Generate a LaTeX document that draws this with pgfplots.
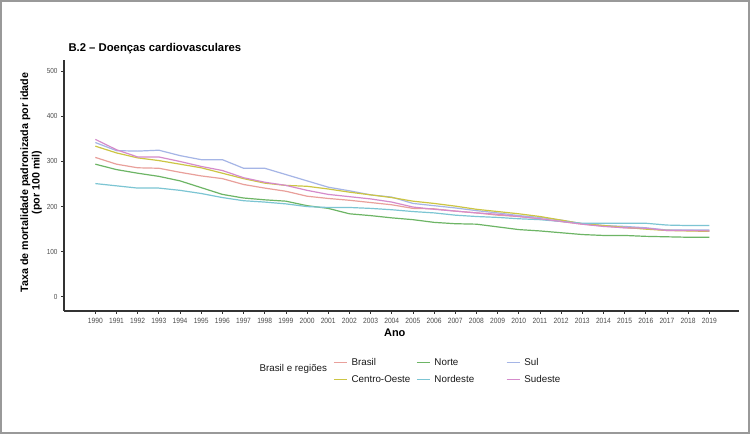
\documentclass[border=0pt]{standalone}
\usepackage{pgfplots}
\pgfplotsset{compat=1.18}
\usepackage{pgfplotstable}
\usepackage{fontspec}
\setmainfont{Liberation Sans}
\newfontfamily\narrowfont{Liberation Sans}[FakeStretch=0.88]
\definecolor{cBrasil}{HTML}{E9A09B}
\definecolor{cCO}{HTML}{CCC543}
\definecolor{cNorte}{HTML}{6DB565}
\definecolor{cNordeste}{HTML}{7CC5D3}
\definecolor{cSul}{HTML}{A5B5E6}
\definecolor{cSudeste}{HTML}{D58BCB}
\definecolor{axisgray}{HTML}{333333}
\definecolor{tickgray}{HTML}{4D4D4D}
\definecolor{framegray}{HTML}{999999}
\pgfplotstableread{
year Brasil CO Norte Nordeste Sul Sudeste
1990 309 334 294 251 342 349
1991 294 319 282 246 324 326
1992 286 308 274 241 323 310
1993 285 302 267 241 325 310
1994 276 294 257 236 313 300
1995 268 286 242 229 304 289
1996 262 274 227 220 304 280
1997 249 262 219 213 285 264
1998 241 252 215 210 285 254
1999 234 247 212 206 271 247
2000 223 245 202 200 257 236
2001 218 239 196 198 243 227
2002 214 232 184 198 235 222
2003 209 226 180 196 226 217
2004 204 220 175 193 221 210
2005 196 212 171 189 207 199
2006 195 207 165 186 202 194
2007 190 201 162 181 197 190
2008 186 194 161 178 191 186
2009 181 189 155 176 186 183
2010 178 184 149 173 180 178
2011 173 178 146 171 176 173
2012 167 170 142 167 170 167
2013 161 162 138 163 162 161
2014 157 158 136 163 158 156
2015 153 154 136 163 156 153
2016 151 150 134 163 153 152
2017 148 147 133 159 148 147
2018 147 146 132 158 148 147
2019 147 145 132 158 148 146
}\datatable
\begin{document}
\begin{tikzpicture}
\useasboundingbox (0pt,0pt) rectangle (750pt,434pt);
\fill[white] (0pt,0pt) rectangle (750pt,434pt);
\draw[framegray, line width=2pt] (1pt,1pt) rectangle (749pt,433pt);
\node[anchor=base west, font=\bfseries\fontsize{11.3}{13}\selectfont] at (65pt,382pt) {B.2 -- Doenças cardiovasculares};
\node[anchor=west, font=\fontsize{9.8}{11}\selectfont, text=black!90] at (256pt,65pt) {Brasil e regiões};
\begin{axis}[
  at={(64pt,123pt)}, anchor=south west, scale only axis,
  width=675pt, height=251pt,
  xmin=1988.52, xmax=2020.4, ymin=-31.5, ymax=525,
  axis x line=bottom, axis y line=left,
  axis line style={-, draw=axisgray, line width=1.2pt},
  xtick={1990,...,2019}, ytick={0,100,...,500},
  tick align=outside, major tick length=3pt,
  tick style={draw=axisgray, line width=0.7pt},
  /pgf/number format/1000 sep={},
  /pgf/number format/assume math mode=true,
  xticklabel style={font=\narrowfont\fontsize{7.6}{9}\selectfont, text=tickgray, yshift=-0.5pt},
  yticklabel style={font=\narrowfont\fontsize{7.3}{9}\selectfont, text=tickgray},
  xlabel={Ano},
  xlabel style={at={(axis description cs:0.49,-0.0876)}, anchor=center, font=\bfseries\fontsize{11}{13}\selectfont},
  ylabel={Taxa de mortalidade padronizada por idade\\(por 100 mil)},
  ylabel style={at={(axis description cs:-0.0489,0.512)}, anchor=center, align=center, font=\bfseries\fontsize{10.7}{11.5}\selectfont},
  legend columns=3,
  legend style={draw=none, fill=none, at={(0.3985,-0.171)}, anchor=north west,
    font=\fontsize{9.8}{11}\selectfont, text=black!90, inner sep=0pt, column sep=0pt,
    nodes={inner sep=1.5pt, text height=9.5pt, text depth=4.5pt}},
  legend image code/.code={\draw[#1, line width=1.4pt] (0pt,0pt) -- (13pt,0pt);},
  every axis plot/.append style={line width=1.2pt},
]
\addplot[cBrasil, no markers] table[x=year, y=Brasil] {\datatable};
\addlegendentry{\makebox[65.5pt][l]{\hspace{2.5pt}Brasil}}
\addplot[cNorte, no markers] table[x=year, y=Norte] {\datatable};
\addlegendentry{\makebox[72.5pt][l]{\hspace{2.5pt}Norte}}
\addplot[cSul, no markers] table[x=year, y=Sul] {\datatable};
\addlegendentry{\makebox[45pt][l]{\hspace{2.5pt}Sul}}
\addplot[cCO, no markers] table[x=year, y=CO] {\datatable};
\addlegendentry{\makebox[65.5pt][l]{\hspace{2.5pt}Centro-Oeste}}
\addplot[cNordeste, no markers] table[x=year, y=Nordeste] {\datatable};
\addlegendentry{\makebox[72.5pt][l]{\hspace{2.5pt}Nordeste}}
\addplot[cSudeste, no markers] table[x=year, y=Sudeste] {\datatable};
\addlegendentry{\makebox[45pt][l]{\hspace{2.5pt}Sudeste}}
\end{axis}
\end{tikzpicture}
\end{document}
